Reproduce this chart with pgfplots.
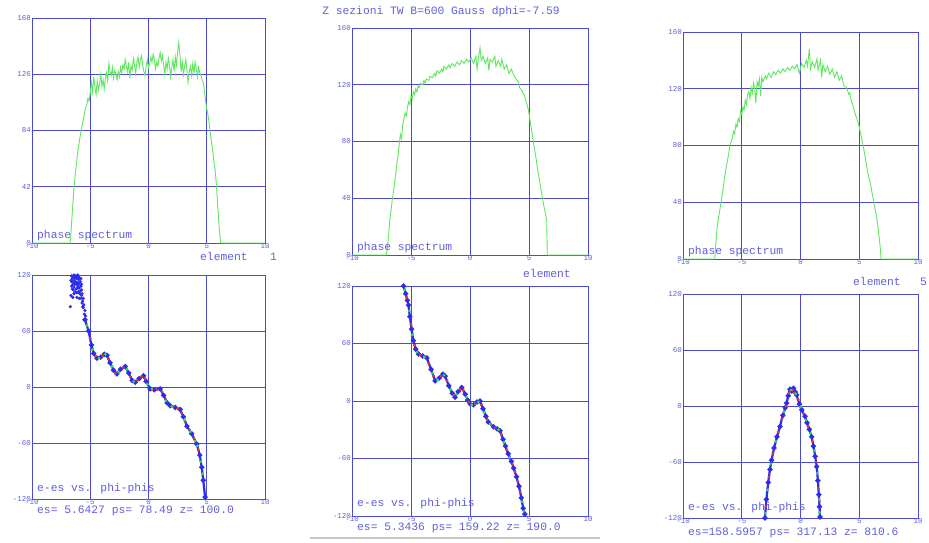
\documentclass[border=0pt]{standalone}
\usepackage{pgfplots}
\pgfplotsset{compat=1.18}
\usepackage{fontspec}
\setmainfont{Liberation Mono}

\definecolor{gridblue}{RGB}{75,75,210}
\definecolor{txtblue}{RGB}{95,95,220}
\definecolor{specgreen}{RGB}{95,232,95}
\definecolor{dotred}{RGB}{225,55,55}
\definecolor{dotgreen}{RGB}{45,225,70}
\definecolor{dotblue}{RGB}{45,45,235}

\newcommand{\lbl}{\fontsize{11.3}{12}\selectfont\color{txtblue}}

\pgfplotsset{
  panel/.style={
    scale only axis, anchor=south west,
    xmin=-10, xmax=10, xtick={-10,-5,0,5,10},
    grid=major, major grid style={gridblue, line width=0.9pt},
    axis line style={gridblue, line width=0.9pt},
    major tick length=0pt,
    tick label style={font=\fontsize{7.5}{8}\selectfont, text=txtblue},
    /pgf/number format/assume math mode=true,
    xticklabel style={inner sep=0.6pt},
    yticklabel style={inner sep=1pt},
  },
  spec/.style={panel, ymin=0, clip=false},
  phase/.style={panel, ymin=-120, ymax=120, ytick={-120,-60,0,60,120}},
  specline/.style={specgreen, line width=0.9pt, sharp plot},
  chain/.style={dotblue, line width=2.2pt, mark=*, mark size=1.3pt},
  reddots/.style={only marks, dotred, mark=*, mark size=1.2pt},
  greendots/.style={only marks, dotgreen, mark=*, mark size=1.2pt},
}

\begin{document}
\begin{tikzpicture}[x=1pt, y=1pt]
\fill[white] (0,0) rectangle (929,543);
\useasboundingbox (0,0) rectangle (929,543);

% ---------- phase spectrum, element 1 ----------
\begin{axis}[spec, at={(32pt,300pt)}, width=233pt, height=225pt,
  ymax=168, ytick={0,42,84,126,168}]
\addplot[specline] coordinates {
(-10,0) (-6.75,0) (-6.7,2) (-6.6,15) (-6.5,28) (-6.4,40) (-6.3,50) (-6.2,58)
(-6.1,66) (-6.0,72) (-5.9,78) (-5.8,83) (-5.7,88) (-5.6,92) (-5.5,96) (-5.4,101)
(-5.3,103) (-5.2,108) (-5.1,106) (-5.0,112) (-4.9,120) (-4.8,113) (-4.7,124)
(-4.6,116) (-4.5,111) (-4.4,121) (-4.3,114) (-4.2,119) (-4.1,126) (-4.0,117)
(-3.9,122) (-3.8,115) (-3.7,123) (-3.6,127) (-3.5,121) (-3.4,134) (-3.3,128)
(-3.2,125) (-3.1,131) (-3.0,123) (-2.9,129) (-2.8,126) (-2.7,122) (-2.6,128)
(-2.5,124) (-2.4,131) (-2.3,127) (-2.2,133) (-2.1,130) (-2.0,137) (-1.9,132)
(-1.8,128) (-1.7,135) (-1.6,123) (-1.5,132) (-1.4,129) (-1.3,138) (-1.2,133)
(-1.1,127) (-1.0,135) (-0.9,139) (-0.8,131) (-0.7,137) (-0.6,140) (-0.5,133)
(-0.4,128) (-0.3,125) (-0.2,132) (-0.1,137) (0.0,131) (0.1,134) (0.2,139)
(0.3,135) (0.4,141) (0.5,137) (0.6,130) (0.7,135) (0.8,132) (0.9,138) (1.0,142)
(1.1,136) (1.2,140) (1.3,133) (1.4,126) (1.5,135) (1.6,130) (1.7,138) (1.8,133)
(1.9,124) (2.0,131) (2.1,137) (2.2,128) (2.3,139) (2.4,133) (2.5,143) (2.6,150)
(2.7,140) (2.8,128) (2.9,135) (3.0,126) (3.1,132) (3.2,137) (3.3,129) (3.4,120)
(3.5,128) (3.6,132) (3.7,125) (3.8,134) (3.9,127) (4.0,135) (4.1,130) (4.2,124)
(4.3,131) (4.4,127) (4.5,125) (4.6,122) (4.7,120) (4.8,114) (4.9,106) (5.0,100)
(5.1,96) (5.2,90) (5.3,82) (5.4,76) (5.5,70) (5.6,62) (5.7,56) (5.8,47)
(5.9,34) (6.0,20) (6.1,8) (6.2,0) (10,0)
};
\end{axis}

% ---------- phase spectrum, element 2 ----------
\begin{axis}[spec, at={(352pt,288pt)}, width=236pt, height=227pt,
  ymax=160, ytick={0,40,80,120,160}]
\addplot[specline] coordinates {
(-10,0) (-7.1,0) (-7.0,5) (-6.9,14) (-6.8,24) (-6.7,31) (-6.6,38) (-6.5,44)
(-6.4,50) (-6.3,57) (-6.2,64) (-6.1,70) (-6.0,78) (-5.9,85) (-5.8,82) (-5.7,92)
(-5.6,96) (-5.5,100) (-5.4,98) (-5.3,104) (-5.2,108) (-5.1,106) (-5.0,112)
(-4.9,110) (-4.8,115) (-4.7,113) (-4.6,117) (-4.5,115) (-4.4,119) (-4.3,118)
(-4.2,121) (-4.0,120) (-3.9,123) (-3.8,121) (-3.7,124) (-3.5,123) (-3.4,126)
(-3.2,125) (-3.0,128) (-2.9,126) (-2.8,130) (-2.6,128) (-2.4,131) (-2.3,129)
(-2.2,133) (-2.0,131) (-1.8,134) (-1.7,132) (-1.5,135) (-1.3,133) (-1.1,136)
(-0.9,134) (-0.7,137) (-0.5,135) (-0.3,138) (-0.1,136) (0.1,139) (0.3,135)
(0.5,140) (0.6,131) (0.7,138) (0.85,146) (0.95,137) (1.1,140) (1.3,135)
(1.5,139) (1.6,130) (1.7,138) (1.9,136) (2.1,140) (2.2,133) (2.4,137) (2.6,133)
(2.7,138) (2.9,131) (3.1,134) (3.3,128) (3.5,131) (3.7,127) (3.9,124) (4.1,122)
(4.2,118) (4.4,116) (4.5,114) (4.6,113) (4.7,110) (4.8,107) (4.9,104) (5.0,100)
(5.1,94) (5.2,89) (5.3,84) (5.4,78) (5.5,73) (5.6,68) (5.7,62) (5.8,57)
(5.9,52) (6.0,47) (6.1,42) (6.2,37) (6.3,33) (6.4,29) (6.5,24) (6.55,0) (10,0)
};
\end{axis}

% ---------- phase spectrum, element 5 ----------
\begin{axis}[spec, at={(683pt,284pt)}, width=235pt, height=227pt,
  ymax=160, ytick={0,40,80,120,160}]
\addplot[specline] coordinates {
(-10,0) (-7.3,0) (-7.2,12) (-7.1,22) (-7.0,28) (-6.9,33) (-6.8,38) (-6.7,43)
(-6.6,49) (-6.5,55) (-6.4,61) (-6.3,66) (-6.2,70) (-6.1,75) (-6.0,80) (-5.9,83)
(-5.8,85) (-5.7,90) (-5.6,88) (-5.5,95) (-5.4,93) (-5.3,99) (-5.2,97) (-5.1,104)
(-5.0,102) (-4.9,107) (-4.8,105) (-4.7,112) (-4.6,109) (-4.5,116) (-4.4,118)
(-4.3,113) (-4.2,121) (-4.1,117) (-4.0,124) (-3.9,120) (-3.8,110) (-3.7,125)
(-3.6,122) (-3.5,127) (-3.4,115) (-3.3,128) (-3.2,125) (-3.0,129) (-2.9,127)
(-2.7,131) (-2.5,128) (-2.3,132) (-2.1,130) (-1.9,133) (-1.7,131) (-1.5,134)
(-1.3,132) (-1.1,135) (-0.9,133) (-0.7,136) (-0.5,134) (-0.3,137) (-0.1,131)
(0.1,138) (0.3,135) (0.5,140) (0.6,136) (0.75,148) (0.85,134) (1.0,139)
(1.2,135) (1.4,141) (1.5,133) (1.7,140) (1.8,128) (1.9,137) (2.1,132) (2.3,136)
(2.5,130) (2.7,134) (2.9,128) (3.1,132) (3.3,126) (3.5,129) (3.7,122) (3.9,121)
(4.0,119) (4.1,116) (4.2,117) (4.3,112) (4.4,110) (4.5,107) (4.6,104) (4.7,101)
(4.8,99) (4.9,96) (5.0,93) (5.1,89) (5.2,85) (5.3,81) (5.4,77) (5.5,72)
(5.6,67) (5.7,62) (5.8,58) (5.9,55) (6.0,51) (6.1,46) (6.2,42) (6.3,37)
(6.4,33) (6.5,28) (6.6,22) (6.7,15) (6.8,7) (6.85,0) (10,0)
};
\end{axis}

% ---------- e-es vs. phi-phis, element 1 ----------
\begin{axis}[phase, at={(32pt,44pt)}, width=233pt, height=224pt]
\addplot[only marks, dotblue, mark=*, mark size=1.4pt] coordinates {
(-6.5,118) (-6.4,120) (-6.3,119) (-6.2,117) (-6.1,120) (-6.0,115) (-6.6,119)
(-6.35,110) (-6.2,105) (-6.05,108) (-5.9,100) (-5.8,95) (-6.45,113) (-6.25,112)
(-6.1,112) (-5.95,106) (-5.85,103) (-5.7,90) (-5.6,85) (-5.5,78) (-5.75,98)
(-6.4,100) (-6.66,98) (-6.71,86) (-6.55,105) (-6.0,118) (-6.15,101) (-5.65,92)
(-6.55,116) (-6.45,119) (-6.35,116) (-6.25,118) (-6.15,116) (-6.05,119)
(-5.95,117) (-5.9,112) (-6.0,110) (-6.1,106) (-6.3,113) (-6.4,107) (-6.5,110)
(-6.6,113) (-6.2,110) (-5.8,108) (-5.85,113) (-6.0,102) (-6.15,96) (-5.95,95)
(-5.75,104) (-5.7,100) (-5.6,95) (-5.55,88) (-5.45,82) (-5.4,76) (-5.65,86)
(-6.3,102) (-6.45,104) (-6.5,96) (-6.6,108) (-6.65,114) (-5.8,116) (-5.75,110)
};
\addplot[chain] coordinates {
(-5.45,72) (-5.14,60) (-4.9,45) (-4.7,36) (-4.43,31) (-4.1,32) (-3.8,35)
(-3.57,34) (-3.3,26) (-3.0,18) (-2.71,14) (-2.4,19) (-2.0,22) (-1.7,15)
(-1.4,7) (-1.14,5) (-0.8,9) (-0.43,12) (-0.2,6) (0.14,-2) (0.5,-3) (1.0,-2)
(1.3,-9) (1.6,-17) (1.86,-20) (2.3,-22) (2.71,-24) (3.0,-32) (3.3,-42)
(3.7,-50) (4.14,-61) (4.4,-73) (4.57,-86) (4.7,-100) (4.86,-118)
};
\addplot[reddots] coordinates {
(-5.0,52) (-4.55,33) (-3.95,34) (-3.45,30) (-2.85,15) (-2.2,21) (-1.55,11)
(-0.95,7) (-0.6,11) (-0.3,9) (0.3,-3) (0.75,-3) (1.15,-5) (1.45,-13) (2.1,-21)
(2.5,-23) (2.85,-28) (3.15,-37) (3.5,-46) (3.9,-55) (4.27,-67)
};
\addplot[greendots] coordinates {
(-5.3,66) (-4.8,40) (-4.25,31) (-3.7,35) (-3.15,22) (-2.55,16) (-1.85,19)
(-1.27,6) (-0.1,3) (0.3,-2) (1.5,-15) (2.0,-21) (3.1,-35) (3.6,-48) (4.0,-58)
(4.2,-63) (4.5,-80) (4.65,-93)
};
\end{axis}

% ---------- e-es vs. phi-phis, element 2 ----------
\begin{axis}[phase, at={(352pt,27pt)}, width=236pt, height=230pt]
\addplot[chain] coordinates {
(-5.63,120) (-5.45,112) (-5.3,105) (-5.21,100) (-5.1,88) (-4.95,75) (-4.79,63)
(-4.6,54) (-4.37,49) (-4.0,47) (-3.66,45) (-3.3,33) (-2.96,21) (-2.6,24)
(-2.3,28) (-2.11,26) (-1.8,16) (-1.5,8) (-1.27,4) (-1.0,10) (-0.7,14) (-0.4,7)
(-0.2,1) (0,-3) (0.3,-4) (0.6,-1) (0.85,0) (1.1,-8) (1.35,-16) (1.55,-22)
(2.0,-27) (2.3,-29) (2.54,-31) (2.8,-40) (3.0,-47) (3.24,-55) (3.5,-63)
(3.7,-70) (3.94,-79) (4.15,-89) (4.35,-101) (4.51,-112) (4.65,-118)
};
\addplot[reddots] coordinates {
(-5.38,108) (-5.0,80) (-4.7,58) (-4.2,48) (-3.8,46) (-3.5,39) (-3.1,26)
(-2.45,26) (-1.95,21) (-1.4,6) (-0.85,12) (-0.55,11) (-0.1,-1) (0.45,-3)
(0.95,-4) (1.45,-19) (1.8,-25) (2.15,-28) (2.65,-35) (3.1,-51) (3.6,-66)
(3.8,-74) (4.05,-84) (4.25,-95)
};
\addplot[greendots] coordinates {
(-5.55,116) (-5.15,94) (-4.87,69) (-4.5,51) (-3.9,46) (-3.2,29) (-2.75,22)
(-2.2,27) (-1.65,12) (-1.15,7) (-0.3,4) (0.15,-4) (0.7,-1) (1.2,-12) (1.7,-24)
(2.4,-30) (2.9,-43) (3.35,-59) (4.4,-105) (4.58,-115)
};
\end{axis}

% ---------- e-es vs. phi-phis, element 5 ----------
\begin{axis}[phase, at={(683pt,25pt)}, width=235pt, height=224pt]
\addplot[chain] coordinates {
(-3.03,-120) (-2.9,-100) (-2.75,-82) (-2.6,-68) (-2.46,-58) (-2.25,-45)
(-2.0,-33) (-1.75,-22) (-1.5,-10) (-1.3,-2) (-1.18,3) (-1.05,11) (-0.9,18)
(-0.75,16) (-0.6,19) (-0.45,15) (-0.33,12) (-0.1,2) (0.1,-4) (0.38,-11)
(0.55,-18) (0.75,-25) (0.95,-33) (1.1,-43) (1.25,-54) (1.38,-65) (1.48,-80)
(1.56,-95) (1.62,-108) (1.66,-119)
};
\addplot[reddots] coordinates {
(-2.95,-108) (-2.68,-76) (-2.35,-51) (-1.9,-28) (-1.6,-14) (-1.25,0)
(-0.98,14) (-0.68,17) (-0.52,14) (-0.2,7) (0.25,-8) (0.65,-22) (1.02,-38)
(1.32,-60) (1.52,-88) (1.6,-102)
};
\addplot[greendots] coordinates {
(-3.0,-115) (-2.82,-90) (-2.52,-62) (-2.1,-38) (-1.4,-6) (-0.82,17) (-0.4,13)
(0.0,-1) (0.47,-15) (0.85,-29) (1.18,-48) (1.44,-72) (1.59,-100) (1.64,-114)
};
\end{axis}

% ---------- captions ----------
\node[anchor=base, inner sep=0pt] at (441,528) {\lbl Z sezioni TW B=600 Gauss dphi=-7.59};

\node[anchor=base west, inner sep=0pt] at (37,304) {\lbl phase spectrum};
\node[anchor=base west, inner sep=0pt] at (357,292) {\lbl phase spectrum};
\node[anchor=base west, inner sep=0pt] at (688,288) {\lbl phase spectrum};

\node[anchor=base west, inner sep=0pt] at (200,282) {\lbl element};
\node[anchor=base west, inner sep=0pt] at (270,282) {\lbl 1};
\node[anchor=base west, inner sep=0pt] at (523,265) {\lbl element};
\node[anchor=base west, inner sep=0pt] at (853,257) {\lbl element};
\node[anchor=base west, inner sep=0pt] at (920,257) {\lbl 5};

\node[anchor=base west, inner sep=0pt] at (37,51) {\lbl e-es vs. phi-phis};
\node[anchor=base west, inner sep=0pt] at (357,36) {\lbl e-es vs. phi-phis};
\node[anchor=base west, inner sep=0pt] at (688,32) {\lbl e-es vs. phi-phis};

\node[anchor=base west, inner sep=0pt] at (37,29) {\lbl es= 5.6427 ps= 78.49 z= 100.0};
\node[anchor=base west, inner sep=0pt] at (357,12) {\lbl es= 5.3436 ps= 159.22 z= 190.0};
\node[anchor=base west, inner sep=0pt] at (688,7) {\lbl es=158.5957 ps= 317.13 z= 810.6};

% window edge under the middle column
\draw[black!22, line width=2pt] (310,5) -- (600,5);
\end{tikzpicture}
\end{document}
